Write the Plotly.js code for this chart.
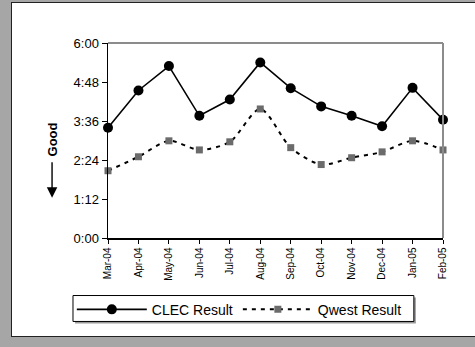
<!DOCTYPE html>
<html>
<head>
<meta charset="utf-8">
<script src="https://cdn.plot.ly/plotly-3.0.1.min.js"></script>
<style>
html,body{margin:0;padding:0;background:#a6a6a6;width:475px;height:347px;overflow:hidden;}
#panel{position:absolute;left:11px;top:2px;width:470px;height:333px;background:#fff;border:1px solid #222;}
#chart{position:absolute;left:0;top:0;width:463px;height:333px;}
</style>
</head>
<body>
<div id="panel"><div id="chart"></div></div>
<script>
var months = ["Mar-04","Apr-04","May-04","Jun-04","Jul-04","Aug-04","Sep-04","Oct-04","Nov-04","Dec-04","Jan-05","Feb-05"];
// durations in hours
var clecResult  = [3.39,4.54,5.29,3.76,4.26,5.40,4.61,4.05,3.76,3.44,4.62,3.64];
var qwestResult = [2.07,2.50,2.99,2.71,2.96,3.97,2.78,2.26,2.47,2.65,2.99,2.71];
var yTickVals = [0,1.2,2.4,3.6,4.8,6];
var yTickText = ["0:00","1:12","2:24","3:36","4:48","6:00"];

var font = "Liberation Sans, Arial, sans-serif";
var traces = [
  {x: months, y: clecResult, name: "CLEC Result", type: "scatter", mode: "lines+markers",
   line: {color: "#000", width: 1.6}, marker: {symbol: "circle", size: 10, color: "#000"}, cliponaxis: false},
  {x: months, y: qwestResult, name: "Qwest Result", type: "scatter", mode: "lines+markers",
   line: {color: "#000", width: 2, dash: "4px,5px", shape: "spline", smoothing: 0.8},
   marker: {symbol: "square", size: 7, color: "#6b6b6b"}, cliponaxis: false}
];
// legend frame position in paper units (plot area spans 335 x 195.6 px)
var lx0 = -0.1045, lx1 = 0.913, ly0 = -0.428, ly1 = -0.295;
var px = 1/335, py = 1/195.6;
var layout = {
  width: 463, height: 333,
  margin: {l: 96, r: 32, t: 40, b: 97},
  paper_bgcolor: "rgba(0,0,0,0)", plot_bgcolor: "#fff",
  font: {family: font, color: "#000"},
  showlegend: true,
  legend: {orientation: "h", x: -0.108, xanchor: "left", y: -0.361, yanchor: "middle",
           borderwidth: 0, bgcolor: "rgba(0,0,0,0)", font: {size: 14, family: font},
           itemwidth: 70, tracegroupgap: 0},
  xaxis: {type: "category", range: [0, 11], showgrid: false, zeroline: false,
          showline: true, linecolor: "#000", linewidth: 1.5,
          ticks: "outside", ticklen: 4, tickcolor: "#000", tickwidth: 1,
          tickangle: -90, tickfont: {size: 10, family: font}, fixedrange: true},
  yaxis: {range: [0, 6], tickvals: yTickVals, ticktext: yTickText, showgrid: false, zeroline: false,
          showline: true, linecolor: "#000", linewidth: 1.5,
          ticks: "outside", ticklen: 5, tickcolor: "#000", tickwidth: 1,
          tickfont: {size: 13, family: font}, fixedrange: true},
  shapes: [
    {type: "line", xref: "paper", yref: "paper", x0: 0, x1: 1, y0: 1, y1: 1, line: {color: "#8c8c8c", width: 2}},
    {type: "line", xref: "paper", yref: "paper", x0: 1, x1: 1, y0: 0, y1: 1, line: {color: "#8c8c8c", width: 2}},
    {type: "rect", xref: "paper", yref: "paper", x0: lx0 + 2*px, x1: lx1 + 2*px, y0: ly0 - 2*py, y1: ly1 - 2*py,
     fillcolor: "#999", line: {width: 0}},
    {type: "rect", xref: "paper", yref: "paper", x0: lx0, x1: lx1, y0: ly0, y1: ly1,
     fillcolor: "#fff", line: {color: "#000", width: 1}}
  ],
  annotations: [
    {xref: "paper", yref: "paper", x: -0.167, y: 0.503, xshift: -9, text: "<b>Good</b>", textangle: -90,
     showarrow: false, font: {size: 13, family: font}},
    {xref: "paper", yref: "paper", x: -0.167, y: 0.206, text: "", showarrow: true,
     ax: 0, ay: -37, arrowhead: 2, arrowsize: 1.5, arrowwidth: 1.4, arrowcolor: "#000"}
  ]
};
Plotly.newPlot("chart", traces, layout, {displayModeBar: false, staticPlot: true});
</script>
</body>
</html>
